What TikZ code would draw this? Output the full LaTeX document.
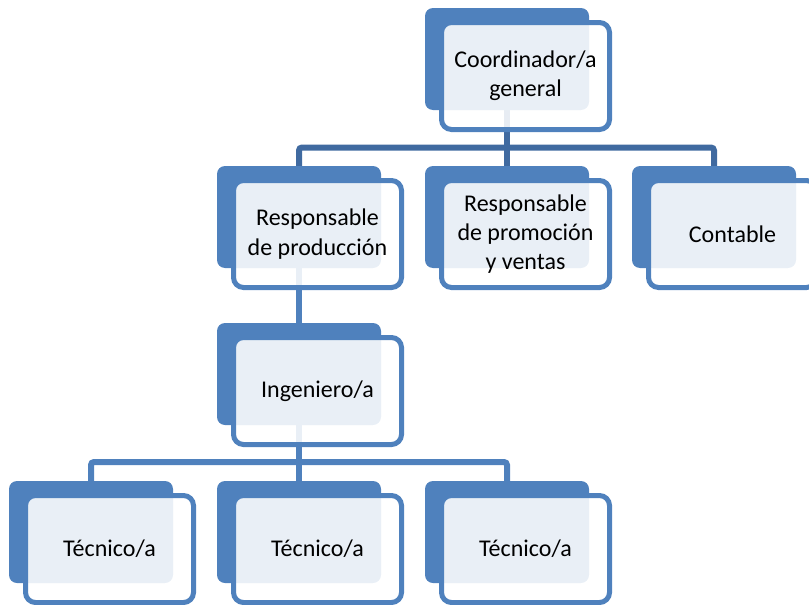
\documentclass[tikz,border=0pt]{standalone}
\usepackage{fontspec}
\setmainfont{Carlito}
\usetikzlibrary{backgrounds}
\definecolor{boxblue}{RGB}{79,129,189}
\definecolor{topline}{RGB}{64,106,160}
\definecolor{lowline}{RGB}{79,129,189}
\tikzset{
  backbox/.style={fill=boxblue, draw=none, rounded corners=8pt, minimum width=164pt, minimum height=102pt, inner sep=0pt},
  frontbox/.style={draw=boxblue, line width=5pt, fill=white, fill opacity=0.88, text opacity=1, rounded corners=10pt, minimum width=168pt, minimum height=107pt, inner sep=0pt, align=center, font=\fontsize{24}{29.3}\selectfont},
  topconn/.style={draw=topline, line width=6pt, rounded corners=3pt},
  lowconn/.style={draw=lowline, line width=6pt, rounded corners=3pt},
}
% #1 name, #2 back x1, #3 back y1, #4 text
\newcommand{\orgbox}[4]{%
  \node[backbox] (#1B) at (#2+82,#3+51) {};
  \node[frontbox] (#1) at (#2+100.5,#3+68) {#4};
}
\begin{document}
\begin{tikzpicture}[x=1pt,y=-1pt]
\useasboundingbox (0,0) rectangle (809,605);
\clip (0,0) rectangle (809,605);
\coordinate (busA) at (0,147.5);
\coordinate (busB) at (0,462);
\orgbox{coord}{425}{8}{Coordinador/a\\general}
\orgbox{prod}{217}{166}{Responsable\\de producción}
\orgbox{prom}{425}{166}{Responsable\\de promoción\\y ventas}
\orgbox{cont}{632}{166}{Contable}
\orgbox{ing}{217}{323}{Ingeniero/a}
\orgbox{tecA}{9}{481}{Técnico/a}
\orgbox{tecB}{217}{481}{Técnico/a}
\orgbox{tecC}{425}{481}{Técnico/a}
\begin{pgfonlayer}{background}
  \draw[topconn] (coordB.center) -- (promB.north);
  \draw[topconn] (prodB.north) -- (prodB.north |- busA) -- (contB.north |- busA) -- (contB.north);
  \draw[lowconn] (prodB.center) -- (ingB.north);
  \draw[lowconn] (ingB.center) -- (tecBB.north);
  \draw[lowconn] (tecAB.north) -- (tecAB.north |- busB) -- (tecCB.north |- busB) -- (tecCB.north);
\end{pgfonlayer}
\end{tikzpicture}
\end{document}
